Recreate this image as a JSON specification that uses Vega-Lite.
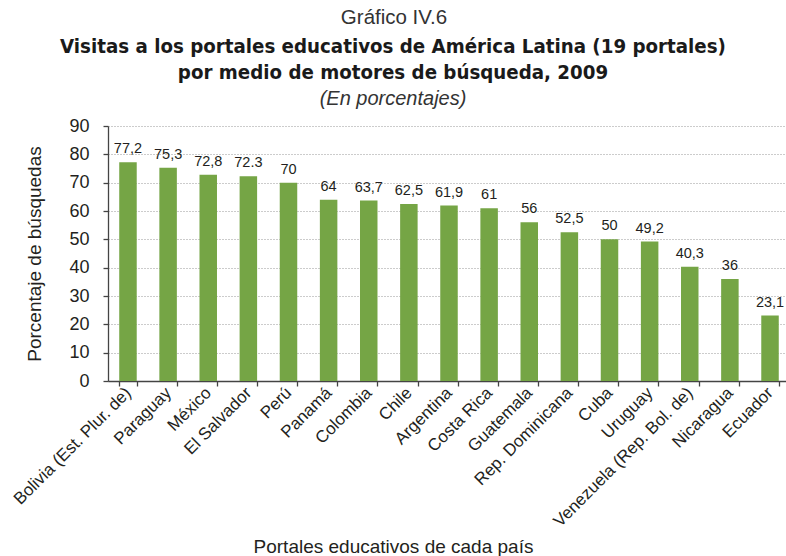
{
  "$schema": "https://vega.github.io/schema/vega-lite/v6.json",
  "padding": {"left": 10, "top": 8, "right": 0, "bottom": 0},
  "background": "white",
  "title": {
    "text": "Gráfico IV.6",
    "font": "Liberation Sans",
    "fontSize": 20.5,
    "fontWeight": "normal",
    "color": "#333333",
    "anchor": "middle",
    "dx": -6,
    "offset": 8
  },
  "data": {
    "values": [
      {"pais": "Bolivia (Est. Plur. de)", "valor": 77.2, "etiqueta": "77,2"},
      {"pais": "Paraguay", "valor": 75.3, "etiqueta": "75,3"},
      {"pais": "México", "valor": 72.8, "etiqueta": "72,8"},
      {"pais": "El Salvador", "valor": 72.3, "etiqueta": "72.3"},
      {"pais": "Perú", "valor": 70, "etiqueta": "70"},
      {"pais": "Panamá", "valor": 64, "etiqueta": "64"},
      {"pais": "Colombia", "valor": 63.7, "etiqueta": "63,7"},
      {"pais": "Chile", "valor": 62.5, "etiqueta": "62,5"},
      {"pais": "Argentina", "valor": 61.9, "etiqueta": "61,9"},
      {"pais": "Costa Rica", "valor": 61, "etiqueta": "61"},
      {"pais": "Guatemala", "valor": 56, "etiqueta": "56"},
      {"pais": "Rep. Dominicana", "valor": 52.5, "etiqueta": "52,5"},
      {"pais": "Cuba", "valor": 50, "etiqueta": "50"},
      {"pais": "Uruguay", "valor": 49.2, "etiqueta": "49,2"},
      {"pais": "Venezuela (Rep. Bol. de)", "valor": 40.3, "etiqueta": "40,3"},
      {"pais": "Nicaragua", "valor": 36, "etiqueta": "36"},
      {"pais": "Ecuador", "valor": 23.1, "etiqueta": "23,1"}
    ]
  },
  "vconcat": [
    {
      "width": 682,
      "height": 255,
      "title": {
        "text": ["Visitas a los portales educativos de América Latina (19 portales)", "por medio de motores de búsqueda, 2009"],
        "subtitle": "(En porcentajes)",
        "font": "DejaVu Sans Condensed, sans-serif",
        "fontSize": 20.3,
        "lineHeight": 26,
        "fontWeight": "bold",
        "color": "#1a1a1a",
        "subtitleFont": "Liberation Sans",
        "subtitleFontSize": 20,
        "subtitleFontStyle": "italic",
        "subtitleColor": "#333333",
        "subtitlePadding": 6,
        "anchor": "middle",
        "dx": -56,
        "offset": 8
      },
      "encoding": {
        "x": {
          "field": "pais",
          "type": "nominal",
          "sort": null,
          "scale": {"paddingInner": 0.564, "paddingOuter": 0.28},
          "axis": {
            "title": "Portales educativos de cada país",
            "titleFont": "Liberation Sans",
            "titleFontSize": 19,
            "titleFontWeight": "normal",
            "titleColor": "#231f20",
            "titleX": 285,
            "titleY": 165,
            "titleBaseline": "middle",
            "labelAngle": -45,
            "labelAlign": "right",
            "labelBaseline": "middle",
            "labelFont": "Liberation Sans",
            "labelFontSize": 17,
            "labelColor": "#231f20",
            "labelPadding": 4,
            "labelOverlap": false,
            "labelLimit": 300,
            "tickBand": "extent",
            "ticks": true,
            "tickSize": 5,
            "tickColor": "#444444",
            "domainColor": "#444444",
            "domainWidth": 1.3,
            "tickWidth": 1.3,
            "grid": false
          }
        },
        "y": {
          "field": "valor",
          "type": "quantitative",
          "scale": {"domain": [0, 90], "nice": false},
          "axis": {
            "title": "Porcentaje de búsquedas",
            "titleFont": "Liberation Sans",
            "titleFontSize": 19,
            "titleFontWeight": "normal",
            "titleColor": "#231f20",
            "titlePadding": 24,
            "values": [0, 10, 20, 30, 40, 50, 60, 70, 80, 90],
            "labelFont": "Liberation Sans",
            "labelFontSize": 18,
            "labelColor": "#231f20",
            "labelPadding": 14,
            "tickSize": 5,
            "tickWidth": 1.3,
            "tickColor": "#444444",
            "domainColor": "#444444",
            "domainWidth": 1.3,
            "grid": true,
            "gridColor": "#999999",
            "gridDash": [1, 2],
            "gridWidth": 1
          }
        }
      },
      "layer": [
        {"mark": {"type": "bar", "color": "#75a545"}},
        {
          "mark": {"type": "text", "baseline": "bottom", "dy": -6, "font": "Liberation Sans", "fontSize": 14.5, "color": "#231f20"},
          "encoding": {"text": {"field": "etiqueta"}}
        }
      ]
    }
  ],
  "config": {"view": {"stroke": null}}
}
